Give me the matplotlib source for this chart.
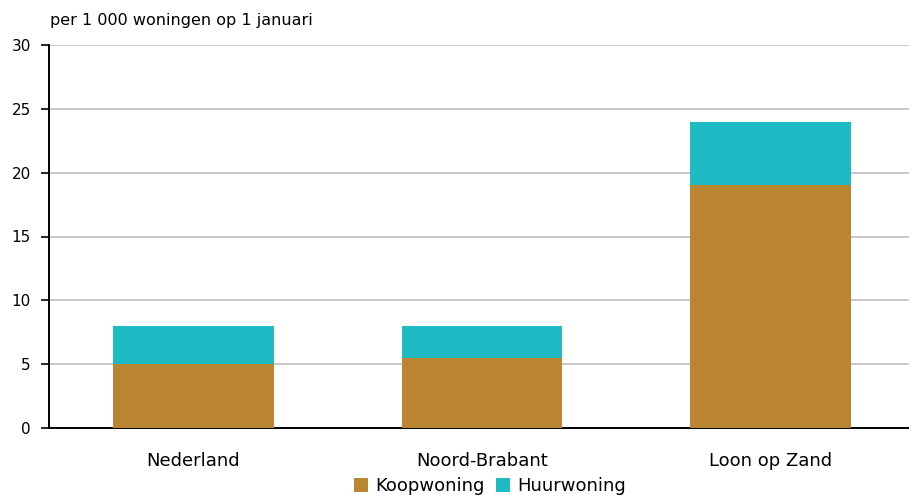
import matplotlib.pyplot as plt

regios = ['Nederland', 'Noord-Brabant', 'Loon op Zand']
koop = [5.0, 5.5, 19.0]
huur = [3.0, 2.5, 5.0]
yticks = [0, 5, 10, 15, 20, 25, 30]

koop_kleur = '#B98530'
huur_kleur = '#1EBBC4'

fig = plt.figure(figsize=(9.09, 4.95), dpi=100)
ax = fig.add_axes([49 / 909, 1 - 428 / 495, 860 / 909, 383 / 495])

x = list(range(len(regios)))
ax.bar(x, koop, width=0.557, color=koop_kleur, label='Koopwoning', zorder=3)
ax.bar(x, huur, width=0.557, bottom=koop, color=huur_kleur, label='Huurwoning', zorder=3)

ax.set_xlim(-0.5, 2.48)
ax.set_ylim(0, 30)
ax.set_yticks(yticks)
ax.set_xticks(x)
ax.set_xticklabels(regios, fontsize=13)
ax.tick_params(axis='x', length=0, pad=17)
ax.tick_params(axis='y', length=6, width=1.2, labelsize=11, pad=7)
ax.grid(axis='y', color='#BFBFBF', linewidth=1.2, zorder=0)

for s in ['top', 'right']:
    ax.spines[s].set_visible(False)
ax.spines['left'].set_linewidth(1.4)
ax.spines['bottom'].set_linewidth(1.4)

fig.text(50 / 909, 1 - 20 / 495, 'per 1 000 woningen op 1 januari', fontsize=11.5, va='center')

ax.legend(loc='center', bbox_to_anchor=(490 / 909, 1 - 486 / 495), bbox_transform=fig.transFigure,
          ncol=2, frameon=False, fontsize=13, handlelength=0.8, handleheight=0.8,
          handletextpad=0.4, columnspacing=0.6, borderpad=0.1)

fig.savefig('out.png', dpi=100)
